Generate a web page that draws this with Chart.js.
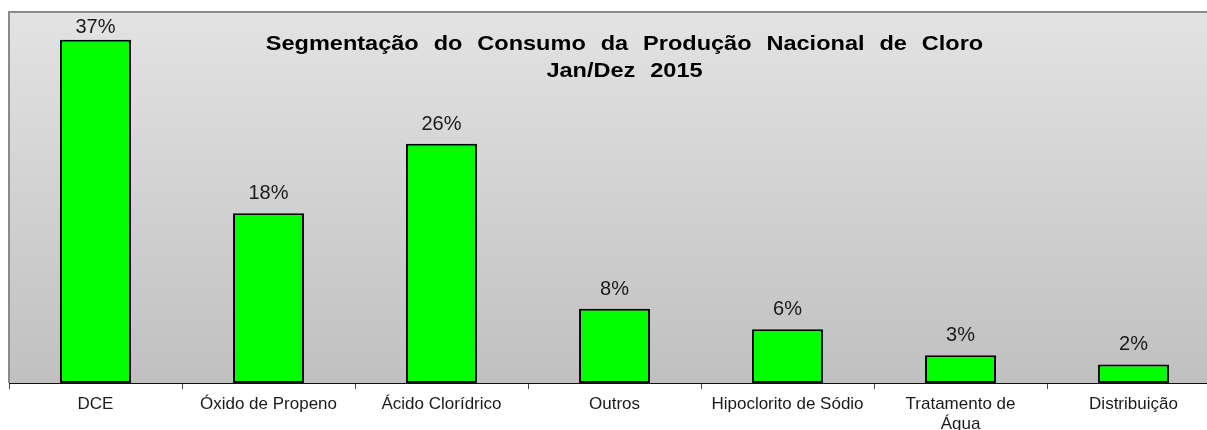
<!DOCTYPE html>
<html>
<head>
<meta charset="utf-8">
<script src="https://cdn.jsdelivr.net/npm/chart.js@4"></script>
<style>
  html, body { margin: 0; padding: 0; background: #fff; overflow: hidden; }
  canvas { display: block; }
</style>
</head>
<body>
<canvas id="chloroChart" width="1225" height="430"></canvas>
<script>
const categories = ['DCE', 'Óxido de Propeno', 'Ácido Clorídrico', 'Outros', 'Hipoclorito de Sódio', ['Tratamento de', 'Água'], 'Distribuição'];
const shares = [37, 18.3, 25.8, 8, 5.8, 3, 2];
const shareLabels = ['37%', '18%', '26%', '8%', '6%', '3%', '2%'];
const titleLines = ['Segmentação do Consumo da Produção Nacional de Cloro', 'Jan/Dez 2015'];

const FONT = '"Liberation Sans", Arial, sans-serif';

// gray gradient behind the bars + the gray frame
const plotBackground = {
    id: 'plotBackground',
    beforeDatasetsDraw(chart) {
        const { ctx, chartArea: a } = chart;
        const grad = ctx.createLinearGradient(0, a.top, 0, a.bottom);
        grad.addColorStop(0, '#e3e3e3');
        grad.addColorStop(1, '#c0c0c0');
        ctx.save();
        ctx.fillStyle = grad;
        ctx.fillRect(a.left, a.top, a.right - a.left, a.bottom - a.top);
        ctx.strokeStyle = '#8a8a8a';
        ctx.lineWidth = 2;
        ctx.beginPath();
        ctx.moveTo(a.left, a.bottom);
        ctx.lineTo(a.left, a.top);
        ctx.lineTo(a.right, a.top);
        ctx.stroke();
        ctx.restore();
    }
};

// percentage labels above bars and the title drawn inside the plot
const barText = {
    id: 'barText',
    afterDatasetsDraw(chart) {
        const { ctx, chartArea: a } = chart;
        const meta = chart.getDatasetMeta(0);
        ctx.save();
        ctx.fillStyle = '#1a1a1a';
        ctx.font = '20px ' + FONT;
        ctx.textAlign = 'center';
        ctx.textBaseline = 'alphabetic';
        meta.data.forEach((bar, i) => {
            const y = Math.max(bar.y - 14, a.top + 21);
            ctx.fillText(shareLabels[i], bar.x, y);
        });

        ctx.fillStyle = '#000';
        ctx.font = 'bold 21px ' + FONT;
        const cx = (a.left + a.right) / 2 + 10;
        drawSpaced(ctx, titleLines[0], cx, a.top + 38, 7.5, 1.12);
        drawSpaced(ctx, titleLines[1], cx, a.top + 65, 7.5, 1.12);
        ctx.restore();
    }
};

// title text is a bit wider than the font and has wide word gaps
function drawSpaced(ctx, text, cx, y, extra, stretch) {
    const words = text.split(' ');
    const space = ctx.measureText(' ').width + extra;
    const widths = words.map(w => ctx.measureText(w).width);
    const total = widths.reduce((s, w) => s + w, 0) + space * (words.length - 1);
    ctx.save();
    ctx.translate(cx, y);
    ctx.scale(stretch, 1);
    ctx.textAlign = 'left';
    let x = -total / 2;
    words.forEach((w, i) => {
        ctx.fillText(w, x, 0);
        x += widths[i] + space;
    });
    ctx.restore();
}

new Chart(document.getElementById('chloroChart'), {
    type: 'bar',
    data: {
        labels: categories,
        datasets: [{
            data: shares,
            backgroundColor: '#00ff00',
            borderColor: '#000',
            borderWidth: 2,
            borderSkipped: false,
            barPercentage: 0.41,
            categoryPercentage: 1
        }]
    },
    options: {
        responsive: false,
        animation: false,
        layout: { padding: { left: 9, top: 12, right: 5, bottom: 0 } },
        plugins: {
            legend: { display: false },
            tooltip: { enabled: false }
        },
        scales: {
            y: { display: false, min: 0, max: 40 },
            x: {
                afterFit: (scale) => { scale.height = 47; },
                grid: {
                    offset: true,
                    drawOnChartArea: false,
                    drawTicks: true,
                    tickLength: 6,
                    color: '#444'
                },
                border: { display: true, color: '#111', width: 1 },
                ticks: {
                    padding: 6,
                    color: '#1a1a1a',
                    maxRotation: 0,
                    autoSkip: false,
                    font: { family: FONT, size: 17, lineHeight: 1.15 }
                }
            }
        }
    },
    plugins: [plotBackground, barText]
});
</script>
</body>
</html>
